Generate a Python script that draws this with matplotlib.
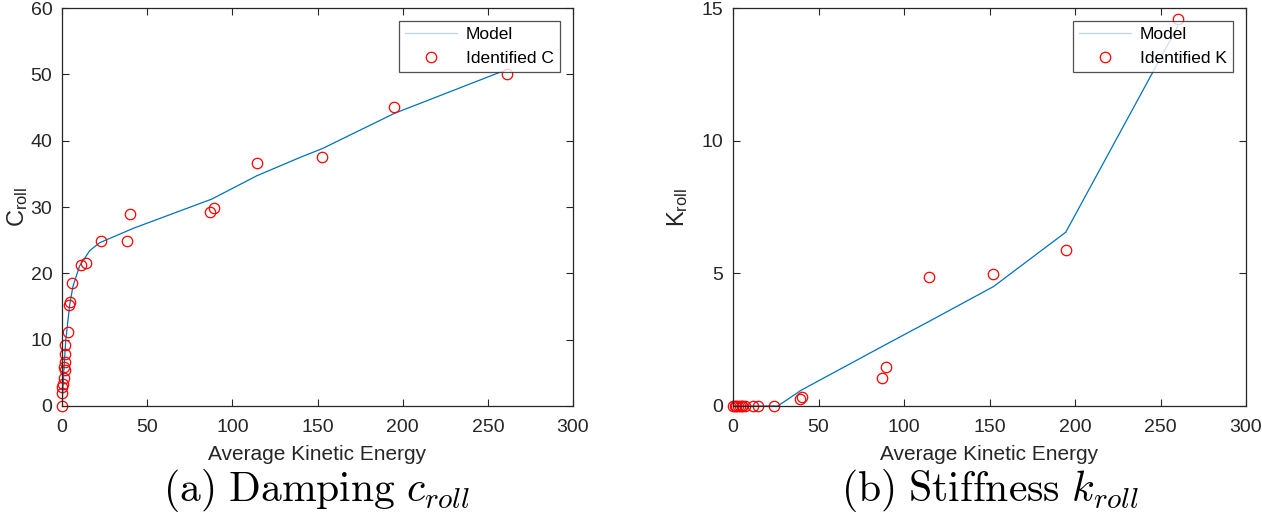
import matplotlib
matplotlib.use("Agg")
import matplotlib.pyplot as plt

plt.rcParams["font.family"] = ["Liberation Sans", "DejaVu Sans"]
plt.rcParams["mathtext.fontset"] = "custom"
plt.rcParams["mathtext.rm"] = "Liberation Sans"
plt.rcParams["mathtext.it"] = "Liberation Sans:italic"

# identified damping C vs average kinetic energy
c_energy = [0, 0, 0, 0.3, 1.2, 1.6, 1.2, 1.6, 1.6, 2.0, 3.5, 4.1, 4.5, 5.7,
            10.9, 13.9, 23.0, 38.2, 40.1, 87.0, 89.4, 114.7, 152.8, 195.1, 261.0]
c_ident = [0, 2.0, 2.9, 3.3, 4.15, 5.4, 5.95, 6.7, 7.8, 9.2, 11.1, 15.3, 15.7, 18.6,
           21.3, 21.6, 24.85, 24.85, 28.9, 29.2, 29.9, 36.7, 37.6, 45.1, 50.1]
c_model_x = [0, 1.0, 2.2, 3.5, 4.5, 6.4, 10.3, 16.2, 22.0, 42.0, 88.0, 114.3,
             140.0, 152.8, 195.0, 261.0]
c_model_y = [0, 4.9, 9.9, 12.9, 15.2, 18.0, 21.1, 23.4, 24.6, 26.8, 31.2, 34.7,
             37.5, 38.8, 44.1, 50.7]

# identified stiffness K vs average kinetic energy
k_energy = [0, 1.0, 2.0, 2.8, 4.0, 5.0, 5.5, 7.0, 11.7, 14.6, 24.1,
            39.0, 40.5, 87.3, 89.3, 114.9, 152.3, 194.6, 260.0]
k_ident = [0, 0, 0, 0, 0, 0, 0, 0, 0, 0, 0,
           0.25, 0.35, 1.07, 1.48, 4.87, 4.96, 5.88, 14.6]
k_model_x = [0, 26.2, 40.0, 88.0, 115.0, 152.3, 194.6, 260.0]
k_model_y = [0, 0, 0.6, 2.27, 3.2, 4.5, 6.55, 14.3]

LINE_COL = "#0072BD"
AX_COL = "#262626"

fig = plt.figure(figsize=(12.62, 5.2), dpi=100, facecolor="white")
ax_c = fig.add_axes([62 / 1262, 114 / 520, 511 / 1262, 398 / 520])
ax_k = fig.add_axes([733 / 1262, 114 / 520, 513 / 1262, 398 / 520])


def style_axes(ax, ylim, yticks):
    ax.set_xlim(0, 300)
    ax.set_ylim(*ylim)
    ax.set_xticks([0, 50, 100, 150, 200, 250, 300])
    ax.set_yticks(yticks)
    ax.tick_params(direction="in", top=True, right=True, length=5, width=0.8,
                   colors=AX_COL, labelsize=14)
    ax.tick_params(axis="x", pad=9)
    ax.tick_params(axis="y", pad=7)
    for sp in ax.spines.values():
        sp.set_color(AX_COL)
        sp.set_linewidth(0.9)
    ax.set_xlabel("Average Kinetic Energy", fontsize=15, color=AX_COL, labelpad=7)


ax_c.plot(c_model_x, c_model_y, color=LINE_COL, lw=0.9, label="Model")
ax_c.plot(c_energy, c_ident, ls="none", marker="o", ms=7.5, mfc="none", mec="red",
          mew=0.9, label="Identified C", clip_on=False)
style_axes(ax_c, (0, 60), [0, 10, 20, 30, 40, 50, 60])
ax_c.set_ylabel(r"C$_{\mathrm{roll}}$", fontsize=17, color=AX_COL, labelpad=0)

ax_k.plot(k_model_x, k_model_y, color=LINE_COL, lw=0.9, label="Model")
ax_k.plot(k_energy, k_ident, ls="none", marker="o", ms=7.5, mfc="none", mec="red",
          mew=0.9, label="Identified K", clip_on=False)
style_axes(ax_k, (0, 15), [0, 5, 10, 15])
ax_k.set_ylabel(r"K$_{\mathrm{roll}}$", fontsize=17, color=AX_COL, labelpad=8)

for ax in (ax_c, ax_k):
    leg = ax.legend(loc="upper right", fontsize=12.5, frameon=True, fancybox=False,
                    borderaxespad=0.75, handlelength=3.0, borderpad=0.35,
                    labelspacing=0.5, handletextpad=0.5)
    leg.get_frame().set_edgecolor(AX_COL)
    leg.get_frame().set_linewidth(0.9)
    leg.get_lines()[0].set_color("#bcd6ec")

fig.text(317 / 1262, 1 - 490 / 520, r"$\mathrm{(a)\ Damping}\ c_{roll}$",
         fontsize=30, ha="center", va="center", math_fontfamily="cm")
fig.text(990 / 1262, 1 - 490 / 520, r"$\mathrm{(b)\ Stiffness}\ k_{roll}$",
         fontsize=30, ha="center", va="center", math_fontfamily="cm")

fig.savefig("out.png", dpi=100)
